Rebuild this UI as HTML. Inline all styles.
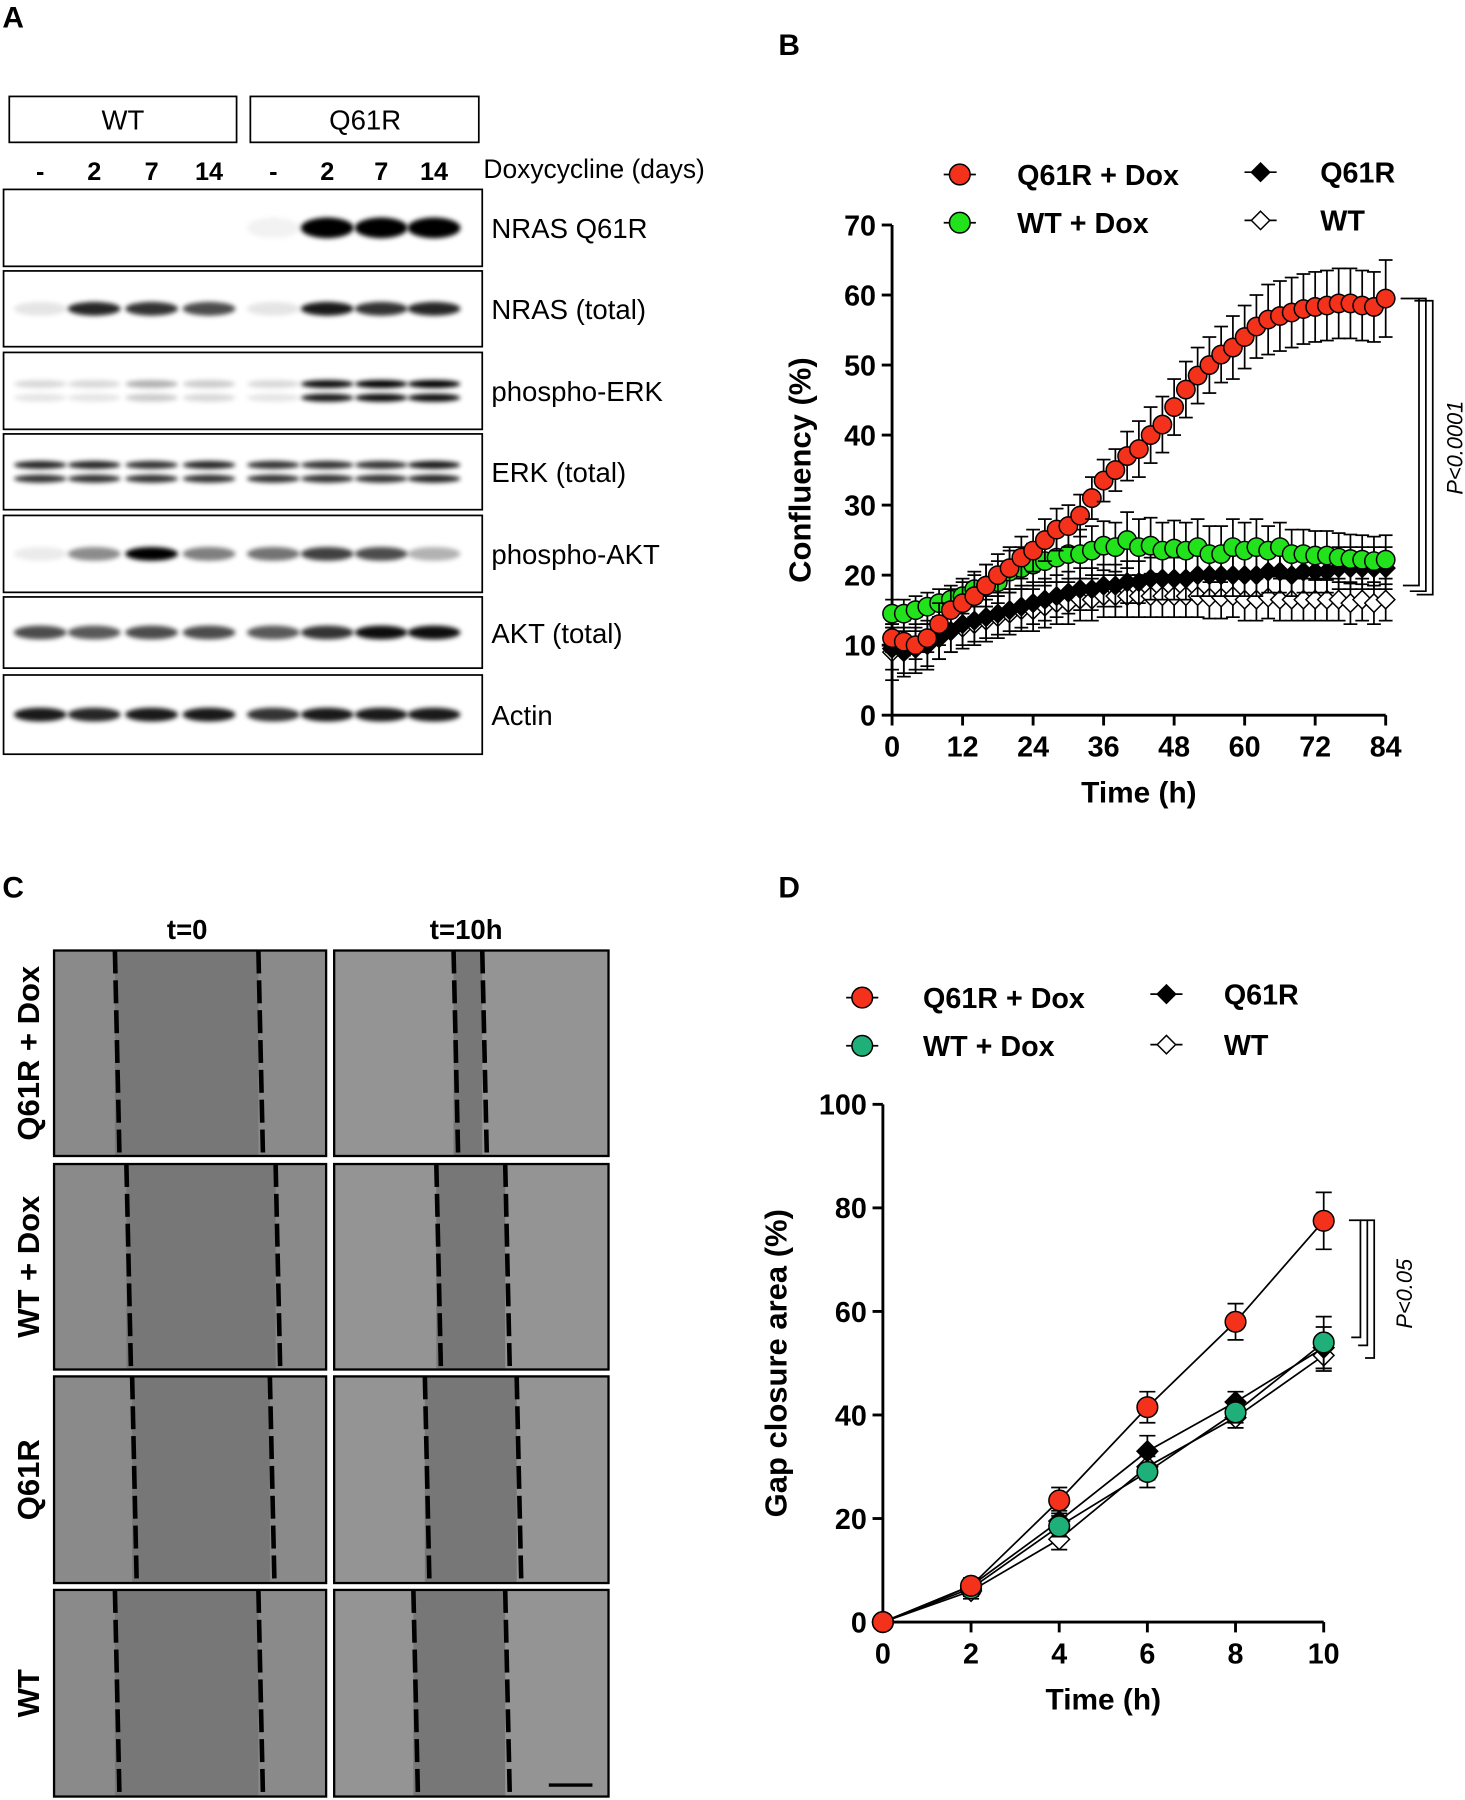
<!DOCTYPE html>
<html><head><meta charset="utf-8"><style>
html,body{margin:0;padding:0;background:#fff}
svg{display:block;font-family:"Liberation Sans",Arial,sans-serif}
.b{font-weight:bold}
</style></head><body>
<svg id="fig" width="1465" height="1800" viewBox="0 0 1276 1568" xmlns="http://www.w3.org/2000/svg">
<defs>
<filter id="blur" x="-50%" y="-100%" width="200%" height="300%"><feGaussianBlur stdDeviation="2.2"/></filter>
</defs>
<text x="2" y="24" font-size="26" class="b">A</text>
<text x="678" y="48" font-size="26" class="b">B</text>
<text x="2" y="782" font-size="26" class="b">C</text>
<text x="678" y="782" font-size="26" class="b">D</text>
<g id="blot"></g>
<g id="scratch"></g>
<g id="chartB"></g>
<g id="chartD"></g>
</svg>
<script>
// ---------- Panel B data ----------
const timesB = [0,2,4,6,8,10,12,14,16,18,20,22,24,26,28,30,32,34,36,38,40,42,44,46,48,50,52,54,56,58,60,62,64,66,68,70,72,74,76,78,80,82,84];
const q61rDox = [11,10.5,10,11,13,15,16,17,18.5,20,21,22.5,23.5,25,26.5,27,28.5,31,33.5,35,37,38,40,41.5,44,46.5,48.5,50,51.5,52.5,54,55.5,56.5,57,57.5,58,58.3,58.5,58.8,58.8,58.5,58.3,59.5];
const q61rDoxErr = [2,2,2,2,3,3,3,3,3,3,3,3,3,3,3,3,3,3,3,3,3.5,4,4,4,4,4,4,4,4,4.5,4.5,4.5,5,5,5,5,5,5,5,5,5,5,5.5];
const wtDox = [14.5,14.5,15,15.5,16,16.5,17,18,18.5,19,20.5,21,21.5,22,22.5,23,23,23.5,24.2,24,25,24,24.2,23.5,23.8,23.5,24,23,23,24,23.5,24,23.5,24,23,23,22.8,22.8,22.5,22.3,22.2,22,22.2];
const wtDoxErr = [2,2,2,2,2,2,2.5,2.5,3,3,3,3,3,3,3.5,3.5,3.5,3.5,3.5,3.5,4,4,4,4,4,4,4,4,4,4,4,4,3.5,3.5,3.5,3.5,3.5,3.5,3.5,3.5,3.5,3.5,3.5];
const q61r = [9.5,9,9.5,10,11,12,13,13.5,14,14.5,15,15.5,16,16.5,17,17.5,18,18,18.5,18.5,19,19,19.5,19.5,19.5,19.5,20,20,20,20,20,20,20.5,20.5,20,20.5,20.5,20.5,21,21,21,21,21];
const q61rErr = [3,3,3,3,3,3,3,3,3,3,3,3,3,3,3,3,3,3,3,3,3,3,3,3,3,3,3,3,3,3,3,3,3,3,3,3,3,3,3,3,3,3,3];
const wt = [9,9.5,10,10.5,11,12,12.5,13,13.5,14,14.5,15,15,15.5,16,16,16.5,16.5,17,17,17,17,17,17,17,17,17,16.8,16.8,17,16.5,16.5,16.8,16.5,16.5,16.5,16.5,16.5,16.5,16,16.5,16,16.5];
const wtErr = [4,4,4,4,3,3,3,3,3,3,3,3,3,3,3,3,3,3,3,3,3,3,3,3,3,3,3,3,3,3,3,3,3,3,3,3,3,3,3,3,3,3,3];
const yTicksB = [0,10,20,30,40,50,60,70];
const xTicksB = [0,12,24,36,48,60,72,84];
// ---------- Panel D data ----------
const timesD = [0,2,4,6,8,10];
const dQ61rDox = [0,7,23.5,41.5,58,77.5];
const dQ61rDoxErr = [0,1.5,2.5,3,3.5,5.5];
const dWtDox = [0,6.5,18.5,29,40.5,54];
const dWtDoxErr = [0,1.5,2,3,2,5];
const dQ61r = [0,7,19.5,33,42.5,53];
const dQ61rErr = [0,1.5,2,3,2,4];
const dWt = [0,6,16,30,39.5,51.5];
const dWtErr = [0,1.5,2,2.5,2,3];
const yTicksD = [0,20,40,60,80,100];
const xTicksD = [0,2,4,6,8,10];

const NS="http://www.w3.org/2000/svg";
function mk(tag,attrs,parent,txt){const e=document.createElementNS(NS,tag);for(const k in attrs)e.setAttribute(k,attrs[k]);if(txt!==undefined)e.textContent=txt;parent.appendChild(e);return e;}

// ---------- Western blot ----------
const blot=document.getElementById('blot');
let hb=mk('rect',{x:8,y:84,width:198,height:40,fill:'none',stroke:'#000','stroke-width':1.5},blot);

mk('text',{x:107,y:113,'font-size':24,'text-anchor':'middle'},blot,'WT');
hb=mk('rect',{x:218,y:84,width:199,height:40,fill:'none',stroke:'#000','stroke-width':1.5},blot);

mk('text',{x:318,y:113,'font-size':24,'text-anchor':'middle'},blot,'Q61R');
const laneX=[35,82,132,182,238,285,332,378];
const laneLab=['-','2','7','14','-','2','7','14'];
laneLab.forEach((l,i)=>mk('text',{x:laneX[i],y:157,'font-size':22,'font-weight':'bold','text-anchor':'middle'},blot,l));
mk('text',{x:421,y:155,'font-size':23},blot,'Doxycycline (days)');
const rows=[[165,232,'NRAS Q61R'],[236,302,'NRAS (total)'],[307,374,'phospho-ERK'],[378,444,'ERK (total)'],[449,516,'phospho-AKT'],[520,582,'AKT (total)'],[588,657,'Actin']];
const bands=[
 [[0,0,0,0,0.05,1,1,1]],
 [[0.1,0.85,0.8,0.7,0.1,0.9,0.8,0.85]],
 [[0.15,0.15,0.3,0.2,0.15,0.95,1,1],[0.1,0.1,0.2,0.15,0.1,0.9,0.95,0.95]],
 [[0.85,0.85,0.8,0.85,0.8,0.8,0.8,0.9],[0.8,0.8,0.8,0.8,0.8,0.8,0.8,0.85]],
 [[0.08,0.45,1,0.5,0.55,0.75,0.7,0.3]],
 [[0.7,0.65,0.7,0.7,0.65,0.8,0.95,0.95]],
 [[0.9,0.85,0.9,0.9,0.8,0.9,0.9,0.9]]
];
rows.forEach((r,ri)=>{
  const g=mk('g',{},blot);
  
  mk('rect',{x:3,y:r[0],width:417,height:r[1]-r[0],fill:'#fff',stroke:'#000','stroke-width':1.5},g);
  const cy=(r[0]+r[1])/2;
  const b=bands[ri];
  b.forEach((lane,bi)=>{
    const off=b.length>1?(bi===0?-6:6):0;
    lane.forEach((v,li)=>{
      if(v<0.04)return;
      const h=ri===0?9:(b.length>1?3.5:6);
      mk('ellipse',{cx:laneX[li],cy:cy+off,rx:23,ry:h,fill:'#000','fill-opacity':v,filter:'url(#blur)'},g);
    });
  });
  mk('text',{x:428,y:cy+9,'font-size':24},blot,r[2]);
});

// ---------- Scratch images ----------
const sc=document.getElementById('scratch');
mk('text',{x:163,y:818,'font-size':24,'font-weight':'bold','text-anchor':'middle'},sc,'t=0');
mk('text',{x:406,y:818,'font-size':24,'font-weight':'bold','text-anchor':'middle'},sc,'t=10h');
const rowsC=[[828,1007,'Q61R + Dox'],[1014,1193,'WT + Dox'],[1199,1379,'Q61R'],[1385,1565,'WT']];
const gaps=[[[100,225],[395,420]],[[110,240],[380,440]],[[115,235],[370,450]],[[100,225],[360,440]]];
rowsC.forEach((r,ri)=>{
  const cy=(r[0]+r[1])/2;
  const lt=mk('text',{'font-size':27,'font-weight':'bold','text-anchor':'middle',transform:`translate(34,${cy}) rotate(-90)`},sc,r[2]);
  
  [[47,284],[291,530]].forEach((c,ci)=>{
    const g=mk('g',{},sc);
    
    mk('rect',{x:c[0],y:r[0],width:c[1]-c[0],height:r[1]-r[0],fill:ci===0?'#8a8a8a':'#949494'},g);
    const gp=gaps[ri][ci];
    mk('rect',{x:gp[0],y:r[0],width:gp[1]-gp[0],height:r[1]-r[0],fill:'#777'},g);
    [gp[0],gp[1]].forEach(x=>mk('line',{x1:x,y1:r[0],x2:x+4,y2:r[1],stroke:'#000','stroke-width':4,'stroke-dasharray':'20 6'},g));
    mk('rect',{x:c[0],y:r[0],width:c[1]-c[0],height:r[1]-r[0],fill:'none',stroke:'#000','stroke-width':2},g);
  });
});
mk('line',{x1:478,y1:1555,x2:516,y2:1555,stroke:'#000','stroke-width':3},sc);

// ---------- generic chart ----------
function chart(gid,o){
  const G=document.getElementById(gid);
  const xs=v=>o.x0+(v-o.xmin)/(o.xmax-o.xmin)*(o.x1-o.x0);
  const ys=v=>o.y0-(v-o.ymin)/(o.ymax-o.ymin)*(o.y0-o.y1);
  const ax=mk('g',{},G);
  mk('line',{x1:o.x0,y1:o.y0,x2:o.x0,y2:o.y1,stroke:'#000','stroke-width':2.5},ax);
  mk('line',{x1:o.x0,y1:o.y0,x2:o.x1,y2:o.y0,stroke:'#000','stroke-width':2.5},ax);
  o.yt.forEach(t=>{mk('line',{x1:o.x0-9,y1:ys(t),x2:o.x0,y2:ys(t),stroke:'#000','stroke-width':2.5},ax);
    mk('text',{x:o.x0-14,y:ys(t)+9,'font-size':25,'font-weight':'bold','text-anchor':'end'},ax,t);});
  o.xt.forEach(t=>{mk('line',{x1:xs(t),y1:o.y0,x2:xs(t),y2:o.y0+9,stroke:'#000','stroke-width':2.5},ax);
    mk('text',{x:xs(t),y:o.y0+36,'font-size':25,'font-weight':'bold','text-anchor':'middle'},ax,t);});
  const xl=mk('text',{x:(o.x0+o.x1)/2,y:o.y0+76,'font-size':26,'font-weight':'bold','text-anchor':'middle'},ax,'Time (h)');
  
  const yl=mk('text',{'font-size':27,'font-weight':'bold','text-anchor':'middle',transform:`translate(${o.ylx},${(o.y0+o.y1)/2}) rotate(-90)`},ax,o.ylab);
  
  o.series.forEach(s=>{
    const g=mk('g',{},G);
    if(o.lines){mk('polyline',{points:o.t.map((t,i)=>xs(t)+','+ys(s.v[i])).join(' '),fill:'none',stroke:'#000','stroke-width':1.5},g);}
    o.t.forEach((t,i)=>{
      const x=xs(t),y=ys(s.v[i]),e=s.e[i];
      if(e>0){const up=ys(s.v[i]+e),dn=ys(s.v[i]-e);
        mk('line',{x1:x,y1:up,x2:x,y2:dn,stroke:'#000','stroke-width':1.5},g);
        mk('line',{x1:x-o.cap,y1:up,x2:x+o.cap,y2:up,stroke:'#000','stroke-width':1.5},g);
        mk('line',{x1:x-o.cap,y1:dn,x2:x+o.cap,y2:dn,stroke:'#000','stroke-width':1.5},g);}
      marker(g,s.m,x,y,o.r,s.c);
    });
  });
  return {xs,ys};
}
function marker(g,m,x,y,r,c){
  let el;
  if(m==='c')el=mk('circle',{cx:x,cy:y,r:r,fill:c,stroke:'#000','stroke-width':1.3},g);
  else el=mk('polygon',{points:`${x},${y-r} ${x+r},${y} ${x},${y+r} ${x-r},${y}`,fill:c,stroke:'#000','stroke-width':1.3},g);
  
}
function legend(G,items){
  items.forEach(it=>{
    const g=mk('g',{},G);
    mk('line',{x1:it.x-14,y1:it.y,x2:it.x+14,y2:it.y,stroke:'#000','stroke-width':1.5},g);
    marker(g,it.m,it.x,it.y,it.m==='c'?9:8,it.c);
    mk('text',{x:it.tx,y:it.y+9,'font-size':25,'font-weight':'bold'},g,it.label);
  });
}
const RED='#f4321b',GRN='#22e21c',TEAL='#1fb07a';
// Panel B
const GB=document.getElementById('chartB');
chart('chartB',{x0:777,x1:1207,y0:623,y1:196,xmin:0,xmax:84,ymin:0,ymax:70,yt:yTicksB,xt:xTicksB,t:timesB,
  ylab:'Confluency (%)',ylx:706,r:8,cap:6,lines:false,
  series:[{name:'series-wt',v:wt,e:wtErr,m:'d',c:'#fff'},{name:'series-q61r',v:q61r,e:q61rErr,m:'d',c:'#000'},
          {name:'series-wt-dox',v:wtDox,e:wtDoxErr,m:'c',c:GRN},{name:'series-q61r-dox',v:q61rDox,e:q61rDoxErr,m:'c',c:RED}]});
legend(GB,[{x:836,y:152,m:'c',c:RED,label:'Q61R + Dox',tx:886},{x:836,y:194,m:'c',c:GRN,label:'WT + Dox',tx:886},
  {x:1098,y:150,m:'d',c:'#000',label:'Q61R',tx:1150},{x:1098,y:192,m:'d',c:'#fff',label:'WT',tx:1150}]);
const sigB=mk('path',{d:'M1220,260 H1236 V510 H1222 M1226,260 H1242 V515 H1228 M1232,262 H1248 V518 H1234',fill:'none',stroke:'#000','stroke-width':1.5},GB);

mk('text',{'font-size':19,'font-style':'italic','text-anchor':'middle',transform:'translate(1274,390) rotate(-90)'},GB,'P<0.0001');
// Panel D
const GD=document.getElementById('chartD');
chart('chartD',{x0:769,x1:1153,y0:1413,y1:962,xmin:0,xmax:10,ymin:0,ymax:100,yt:yTicksD,xt:xTicksD,t:timesD,
  ylab:'Gap closure area  (%)',ylx:685,r:9,cap:7,lines:true,
  series:[{name:'series-wt',v:dWt,e:dWtErr,m:'d',c:'#fff'},{name:'series-q61r',v:dQ61r,e:dQ61rErr,m:'d',c:'#000'},
          {name:'series-wt-dox',v:dWtDox,e:dWtDoxErr,m:'c',c:TEAL},{name:'series-q61r-dox',v:dQ61rDox,e:dQ61rDoxErr,m:'c',c:RED}]});
legend(GD,[{x:751,y:869,m:'c',c:RED,label:'Q61R + Dox',tx:804},{x:751,y:911,m:'c',c:TEAL,label:'WT + Dox',tx:804},
  {x:1016,y:866,m:'d',c:'#000',label:'Q61R',tx:1066},{x:1016,y:910,m:'d',c:'#fff',label:'WT',tx:1066}]);
const sigD=mk('path',{d:'M1175,1063 H1185 V1165 H1177 M1181,1063 H1191 V1172 H1183 M1187,1063 H1197 V1183 H1189',fill:'none',stroke:'#000','stroke-width':1.5},GD);

mk('text',{'font-size':19,'font-style':'italic','text-anchor':'middle',transform:'translate(1230,1127) rotate(-90)'},GD,'P<0.05');
</script>
</body></html>
